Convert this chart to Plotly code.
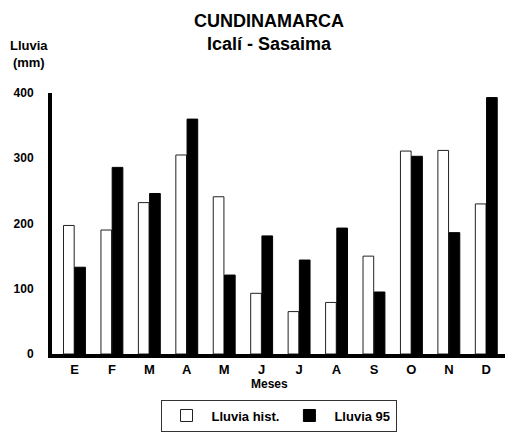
import plotly.graph_objects as go

meses = ["E", "F", "M", "A", "M", "J", "J", "A", "S", "O", "N", "D"]
lluvia_hist = [197, 190, 232, 305, 241, 93, 65, 79, 150, 311, 312, 230]
lluvia_95 = [133, 286, 246, 360, 121, 181, 144, 193, 95, 303, 186, 393]
y_ticks = [0, 100, 200, 300, 400]

x = list(range(len(meses)))
fnt = "Liberation Sans, Arial, sans-serif"

fig = go.Figure()
fig.add_trace(go.Bar(x=x, y=lluvia_hist, name="<b>Lluvia hist.</b>",
                     marker=dict(color="white", line=dict(color="#222", width=1))))
fig.add_trace(go.Bar(x=x, y=lluvia_95, name="<b>Lluvia 95</b>",
                     marker=dict(color="black", line=dict(color="black", width=1))))

fig.update_layout(
    width=507, height=432,
    margin=dict(l=52, r=2, t=93, b=77),
    paper_bgcolor="white", plot_bgcolor="white",
    barmode="group", bargap=0.4, bargroupgap=0.05,
    font=dict(family=fnt, size=12, color="black"),
    showlegend=True,
    legend=dict(orientation="h", x=0.5, xanchor="center", y=-0.17, yanchor="top",
                bordercolor="#333", borderwidth=1, bgcolor="white",
                itemwidth=40, font=dict(size=13, family=fnt)),
    xaxis=dict(range=[-0.6, 11.5], tickvals=x, ticktext=["<b>%s</b>" % m for m in meses],
               showline=True, linecolor="black", linewidth=4, showgrid=False,
               zeroline=False, ticks="", tickfont=dict(size=13)),
    yaxis=dict(range=[0, 400], tickvals=y_ticks, ticktext=["<b>%d</b>" % v for v in y_ticks],
               showline=True, linecolor="black", linewidth=4, showgrid=False,
               zeroline=False, ticks="", ticklabelstandoff=12, tickfont=dict(size=12)),
    annotations=[
        dict(text="<b>CUNDINAMARCA</b><br><b>Icalí - Sasaima</b>", x=0.48, y=1.0,
             xref="paper", yref="paper", yshift=84, yanchor="top", showarrow=False,
             font=dict(size=18)),
        dict(text="<b>Lluvia</b><br><b>(mm)</b>", x=-0.005, y=1.0, xref="paper", yref="paper",
             yshift=57, yanchor="top", xanchor="right", showarrow=False, align="center",
             font=dict(size=13)),
        dict(text="<b>Meses</b>", x=0.48, y=0, xref="paper", yref="paper",
             yshift=-21, yanchor="top", showarrow=False, font=dict(size=12)),
    ],
)

fig.write_html("out.html", config={"displayModeBar": False},
               post_script="document.body.style.margin='0';")
